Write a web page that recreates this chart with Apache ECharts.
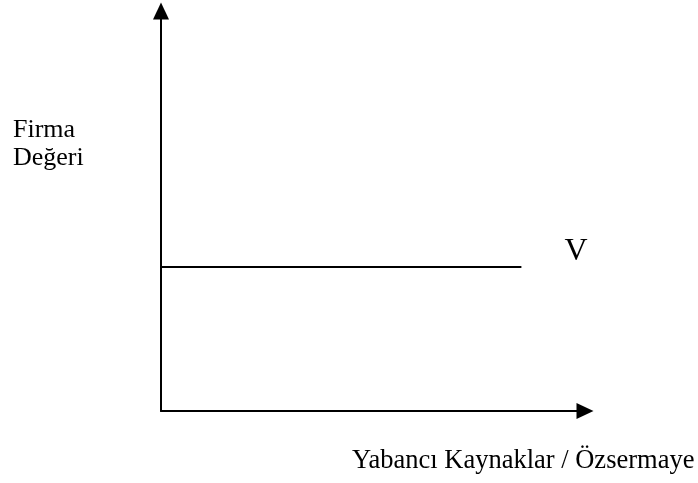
<!DOCTYPE html>
<html>
<head>
<meta charset="utf-8">
<script src="https://cdn.jsdelivr.net/npm/echarts@6/dist/echarts.min.js"></script>
<style>
  html, body { margin: 0; padding: 0; background: #fff; }
  #chart { width: 698px; height: 483px; }
</style>
</head>
<body>
<div id="chart"></div>
<script>
// Firma değeri sabit: V çizgisi borçlanma oranından bağımsız
const ratioValues = [0, 85];
const firmValues = [36, 36];
const yTitle = "Firma\nDeğeri";
const xTitle = "Yabancı Kaynaklar / Özsermaye";
const lineLabel = "V";

const chart = echarts.init(document.getElementById("chart"));
const font = "'Liberation Serif', 'Times New Roman', serif";

const options = {
    animation: false,
    grid: { left: 161, right: 113, top: 11, bottom: 72 },
    xAxis: {
        type: "value",
        min: 0,
        max: 100,
        axisLine: {
            symbol: ["none", "triangle"],
            symbolSize: [16, 17],
            lineStyle: { color: "#000", width: 2 }
        },
        axisTick: { show: false },
        axisLabel: { show: false },
        splitLine: { show: false }
    },
    yAxis: {
        type: "value",
        min: 0,
        max: 100,
        axisLine: {
            symbol: ["none", "triangle"],
            symbolSize: [16, 17],
            lineStyle: { color: "#000", width: 2 }
        },
        axisTick: { show: false },
        axisLabel: { show: false },
        splitLine: { show: false }
    },
    series: [
        {
            type: "line",
            data: ratioValues.map((x, i) => [x, firmValues[i]]),
            symbol: "none",
            lineStyle: { color: "#000", width: 2 },
            endLabel: {
                show: true,
                formatter: lineLabel,
                fontFamily: font,
                fontSize: 32,
                color: "#000",
                distance: 43,
                offset: [0, -15]
            }
        }
    ],
    graphic: [
        {
            type: "text",
            left: 13,
            top: 116,
            style: { text: yTitle, font: "26px " + font, lineHeight: 28, fill: "#000" }
        },
        {
            type: "text",
            left: 352,
            top: 448,
            style: { text: xTitle, font: "26.5px " + font, fill: "#000" }
        }
    ]
};

chart.setOption(options);
</script>
</body>
</html>
